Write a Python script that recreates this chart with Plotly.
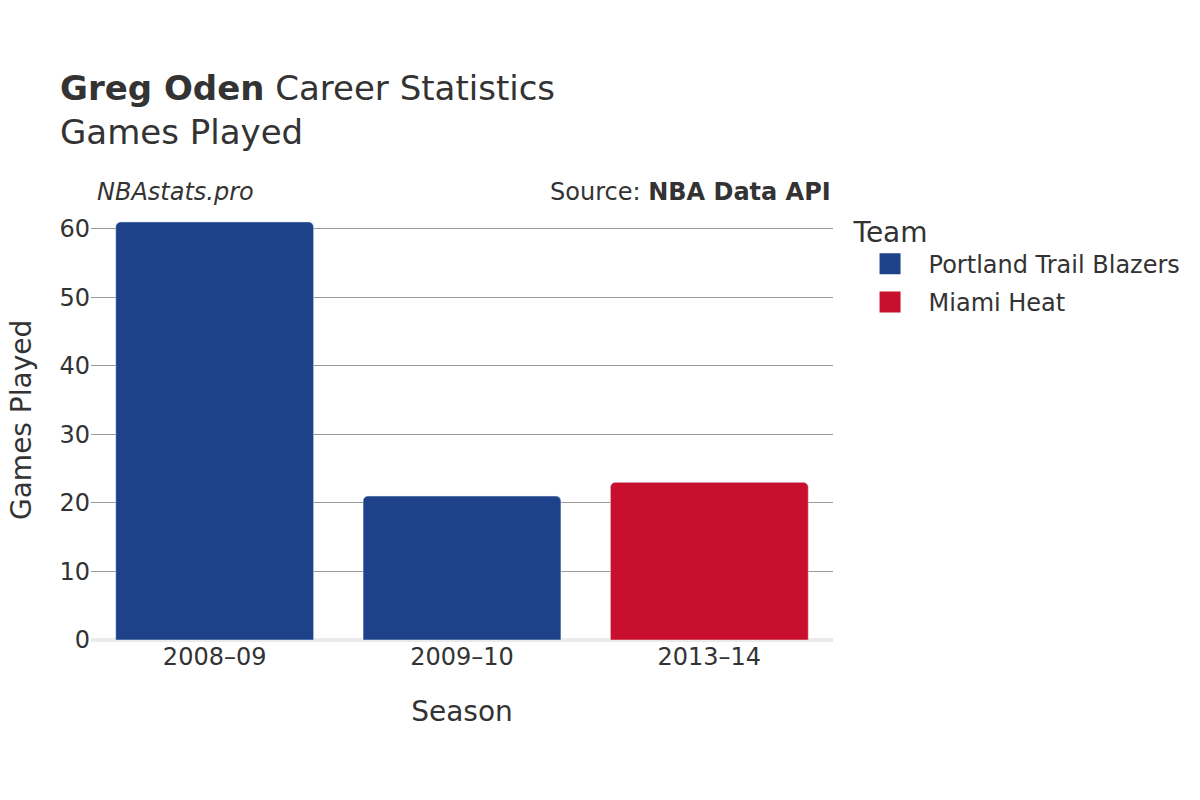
import plotly.graph_objects as go

seasons_por = ["2008–09", "2009–10"]
games_por = [61, 21]
seasons_mia = ["2013–14"]
games_mia = [23]
all_seasons = ["2008–09", "2009–10", "2013–14"]

team_names = ["Portland Trail Blazers", "Miami Heat"]
team_colors = ["#1D428A", "#C8102E"]

FONT = "DejaVu Sans"
TXT = "#333333"

fig = go.Figure()
fig.add_trace(go.Bar(x=seasons_por, y=games_por, name=team_names[0], showlegend=False,
                     marker=dict(color=team_colors[0], cornerradius=5)))
fig.add_trace(go.Bar(x=seasons_mia, y=games_mia, name=team_names[1], showlegend=False,
                     marker=dict(color=team_colors[1], cornerradius=5)))
# legend entries
for nm, col in zip(team_names, team_colors):
    fig.add_trace(go.Scatter(x=[None], y=[None], mode="markers", name=nm, legendgroup=nm,
                             marker=dict(symbol="square", size=16, color=col,
                                         line=dict(width=5, color=col))))

fig.update_layout(
    width=1200, height=800,
    barmode="relative", bargap=0.2,
    paper_bgcolor="white", plot_bgcolor="white",
    font=dict(family=FONT, color=TXT, size=20),
    margin=dict(l=83, r=375, t=192, b=168, autoexpand=False),
    title=dict(text="<b>Greg Oden</b> Career Statistics<br>Games Played",
               x=52/1200, xanchor="left", y=0.885, yanchor="top",
               font=dict(size=34, color=TXT)),
    xaxis=dict(categoryorder="array", categoryarray=all_seasons,
               title=dict(text="Season", font=dict(size=28), standoff=31),
               tickfont=dict(size=24), showgrid=False),
    yaxis=dict(range=[0, 64.2], dtick=10,
               tickfont=dict(size=24), ticks="",
               showgrid=True, gridcolor="#999999", gridwidth=1,
               zeroline=True, zerolinecolor="#EBEBEB", zerolinewidth=4),
    legend=dict(title=dict(text="Team", font=dict(size=28)),
                x=1.025, xanchor="left", y=0.988, yanchor="top",
                font=dict(size=24), itemwidth=67, tracegroupgap=4),
    annotations=[
        dict(text="Games Played", x=0.0, y=0.5, xref="paper", yref="paper",
             xanchor="center", yanchor="middle", textangle=-90, showarrow=False,
             font=dict(size=28, color=TXT), xshift=-70),
        dict(text="<i>NBAstats.pro</i>", x=0.0, y=1.0, xref="paper", yref="paper",
             xanchor="left", yanchor="bottom", showarrow=False,
             font=dict(size=24, color=TXT), xshift=4, yshift=-8),
        dict(text="Source: <b>NBA Data API</b>", x=1.0, y=1.0, xref="paper", yref="paper",
             xanchor="right", yanchor="bottom", showarrow=False,
             font=dict(size=24, color=TXT), xshift=0, yshift=-8),
    ],
)

fig.write_html("out.html")
